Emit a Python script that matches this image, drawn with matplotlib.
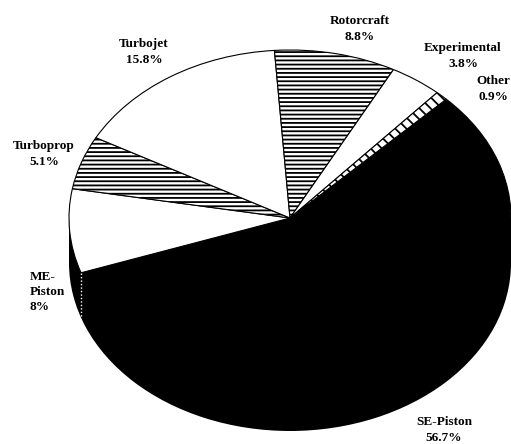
import numpy as np
import matplotlib
matplotlib.use('Agg')
import matplotlib.pyplot as plt
from matplotlib.patches import Rectangle

labels = ['SE-Piston', 'ME-Piston', 'Turboprop', 'Turbojet', 'Rotorcraft', 'Experimental', 'Other']
shares = [56.7, 8.0, 5.1, 15.8, 8.8, 3.8, 0.9]
hatches = [None, None, '----', None, '----', None, '\\\\\\']
colors = ['black', 'white', 'white', 'white', 'white', 'white', 'white']
label_text = ['SE-Piston\n56.7%', 'ME-\nPiston\n8%', 'Turboprop\n5.1%', 'Turbojet\n15.8%',
              'Rotorcraft\n8.8%', 'Experimental\n3.8%', 'Other\n0.9%']
label_pos = [(444, 430), (30, 292), (44, 154), (144, 52), (360, 29), (463, 56), (493, 89)]
label_align = ['center', 'left', 'center', 'center', 'center', 'center', 'center']

W, H = 511, 444
cx, cy = 290, 218
rx, ry = 221, 168
depth = 45

plt.rcParams['font.family'] = ['Liberation Serif', 'DejaVu Serif']
plt.rcParams['hatch.linewidth'] = 1.3

fig = plt.figure(figsize=(W / 100, H / 100), dpi=100)
ax = fig.add_axes([0, 0, 1, 1])

# side of the disc first, all black
ax.pie([1], colors=['black'], center=(0, -depth / ry), radius=1, startangle=0)
ax.add_patch(Rectangle((-1, -depth / ry), 2, depth / ry, color='black', lw=0))

wedges, _ = ax.pie(shares, colors=colors, startangle=45, counterclock=False,
                   wedgeprops={'edgecolor': 'black', 'linewidth': 0.8})
for w, h in zip(wedges, hatches):
    if h:
        w.set_hatch(h)

# dotted seam on the side between SE-Piston and ME-Piston
ang = np.deg2rad(wedges[0].theta1)
sx, sy = np.cos(ang), np.sin(ang)
ax.plot([sx, sx], [sy, sy - depth / ry], color='white', lw=1.0, ls=(0, (1, 1.5)))

# pixel based limits so the circle becomes the flattened ellipse
ax.set_aspect('auto')
ax.set_xlim(-cx / rx, (W - cx) / rx)
ax.set_ylim((cy - H) / ry, cy / ry)
ax.axis('off')

for txt, (px, py), al in zip(label_text, label_pos, label_align):
    ax.text((px - cx) / rx, (cy - py) / ry, txt, ha=al, va='center', fontsize=9.5,
            fontweight='bold', linespacing=1.35, clip_on=False)

fig.savefig('out.png', dpi=100)
